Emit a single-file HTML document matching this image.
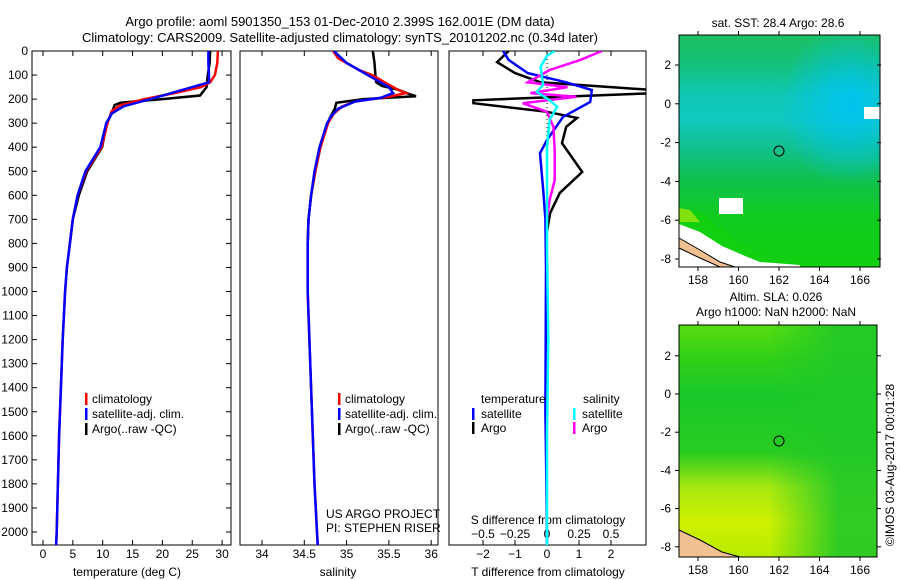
<!DOCTYPE html>
<html><head><meta charset="utf-8"><style>
html,body{margin:0;padding:0;background:#fff;}
svg{display:block;font-family:"Liberation Sans",sans-serif;}
text{font-size:12px;fill:#000;}
</style></head><body>
<svg id="fig" width="900" height="580" viewBox="0 0 900 580">
<defs>
<linearGradient id="sstGrad" x1="0" y1="0" x2="0" y2="1">
<stop offset="0" stop-color="#1cc060"/><stop offset="0.12" stop-color="#14c078"/>
<stop offset="0.25" stop-color="#10c8b0"/><stop offset="0.36" stop-color="#10c8c0"/>
<stop offset="0.5" stop-color="#10c088"/><stop offset="0.62" stop-color="#10c050"/>
<stop offset="0.78" stop-color="#10cc20"/><stop offset="1" stop-color="#10d010"/></linearGradient>
<radialGradient id="sstBlob" cx="0.85" cy="0.3" r="0.35"><stop offset="0" stop-color="#00c4f0" stop-opacity="1"/><stop offset="1" stop-color="#00c4f0" stop-opacity="0"/></radialGradient>
<linearGradient id="slaGrad" x1="0" y1="0" x2="0" y2="1">
<stop offset="0" stop-color="#58dc10"/><stop offset="0.15" stop-color="#30d018"/>
<stop offset="0.3" stop-color="#18c828"/><stop offset="0.55" stop-color="#28cc20"/>
<stop offset="0.7" stop-color="#a8e810"/><stop offset="0.85" stop-color="#d0f000"/><stop offset="1" stop-color="#b8ec00"/></linearGradient>
<linearGradient id="slaRight" x1="0" y1="0" x2="1" y2="0"><stop offset="0.45" stop-color="#20c828" stop-opacity="0"/><stop offset="0.8" stop-color="#20c828" stop-opacity="0.9"/><stop offset="1" stop-color="#20c828" stop-opacity="0.9"/></linearGradient>
<clipPath id="c1"><rect x="32" y="51" width="199" height="494"/></clipPath>
<clipPath id="c2"><rect x="240" y="51" width="198" height="494"/></clipPath>
<clipPath id="c3"><rect x="449" y="51" width="197" height="494"/></clipPath>
</defs>
<text x="340" y="26" text-anchor="middle" style="font-size:13px">Argo profile: aoml 5901350_153 01-Dec-2010 2.399S 162.001E (DM data)</text>
<text x="340" y="42" text-anchor="middle" style="font-size:13px">Climatology: CARS2009. Satellite-adjusted climatology: synTS_20101202.nc (0.34d later)</text>
<g id="g1"></g>
<g id="g2"></g>
<g id="g3"></g>
<g id="maps">
<text x="778" y="27" text-anchor="middle">sat. SST: 28.4  Argo: 28.6</text>
<rect x="679" y="35" width="201" height="232" fill="url(#sstGrad)"/>
<rect x="679" y="35" width="201" height="232" fill="url(#sstBlob)"/>
<polygon points="679,208 700,212 720,228 745,245 770,258 810,262 820,267 679,267" fill="#10d010"/>
<polygon points="679,208 690,210 700,222 679,222" fill="#80e010"/>
<polygon points="679,224 700,232 722,246 745,256 760,262 800,265 800,267 679,267" fill="#fff"/>
<polygon points="679,238 700,250 720,262 735,267 720,267 700,258 679,248" fill="#f0c090" stroke="#000" stroke-width="1"/>
<rect x="719" y="198" width="24" height="16" fill="#fff"/>
<rect x="864" y="107" width="16" height="12" fill="#fff"/>
<rect x="679" y="35" width="201" height="232" fill="none" stroke="#000"/>
<circle cx="779" cy="151" r="5" fill="none" stroke="#000"/>
<text x="776" y="301" text-anchor="middle">Altim. SLA: 0.026</text>
<text x="776" y="316" text-anchor="middle">Argo h1000: NaN h2000: NaN</text>
<rect x="679" y="325" width="198" height="232" fill="url(#slaGrad)"/>
<rect x="679" y="325" width="198" height="232" fill="url(#slaRight)"/>
<polygon points="679,530 700,540 722,552 740,557 679,557" fill="#f0c090" stroke="#000"/>
<rect x="679" y="325" width="198" height="232" fill="none" stroke="#000"/>
<circle cx="779" cy="441" r="5" fill="none" stroke="#000"/>
<text transform="translate(894,465) rotate(-90)" text-anchor="middle">©IMOS 03-Aug-2017 00:01:28</text>
</g>
</svg>
<script>
// ---- data ----
const tClimDepth=[0,50,100,130,150,175,200,225,250,300,400,500,600,700,800,900,1000,1200,1400,1600,1800,2000,2060];
const tClim=[29.3,29.2,28.8,28.0,26.5,22,17,13,11.5,10.8,9.8,7.2,5.8,5.0,4.5,4.0,3.7,3.3,3.0,2.7,2.5,2.3,2.2];
const tSatDepth=[0,50,100,130,150,175,200,230,260,300,400,500,600,700,800,900,1000,1200,1400,1600,1800,2000,2060];
const tSat=[27.7,27.7,27.8,27.8,25,21.5,18,13.5,11.5,10.6,9.6,7.1,5.8,5.0,4.5,4.0,3.7,3.3,3.0,2.7,2.5,2.3,2.2];
const tArgoDepth=[0,50,100,150,185,200,215,225,260,300,400,500,600,700,800];
const tArgo=[28,27.9,27.6,27.4,26.3,20,13,12,11.5,10.7,9.9,7.4,6.0,5.0,4.5];
const sClimDepth=[0,30,50,80,100,130,160,175,190,210,230,260,300,400,500,600,700,800,1000,1200,1400,1600,1800,2000,2060];
const sClim=[34.84,34.9,35.0,35.15,35.3,35.45,35.6,35.7,35.5,35.1,34.95,34.85,34.78,34.69,34.63,34.58,34.55,34.54,34.54,34.56,34.58,34.6,34.62,34.65,34.66];
const sSatDepth=[0,50,100,130,150,175,195,210,240,270,300,400,500,600,700,800,1000,1200,1400,1600,1800,2000,2060];
const sSat=[34.85,35.0,35.25,35.4,35.5,35.55,35.4,35.1,34.9,34.82,34.77,34.68,34.62,34.58,34.55,34.54,34.54,34.56,34.58,34.6,34.62,34.65,34.66];
const sArgoDepth=[0,50,100,130,145,160,180,188,200,215,240,280,300,400,500,600,700,800];
const sArgo=[35.31,35.33,35.34,35.35,35.42,35.6,35.75,35.82,35.2,34.88,34.86,34.8,34.78,34.69,34.63,34.58,34.55,34.54];
const dTSatDepth=[0,37,92,130,162,212,274,370,425,578,700,900,1200,1500,1800,2060];
const dTSat=[-1.37,-1.2,-0.6,0.6,1.4,1.35,0.5,0,-0.22,-0.12,-0.05,-0.03,-0.04,-0.05,-0.02,0];
const dTArgoDepth=[0,46,92,130,163,175,205,217,253,278,315,383,503,590,673,750];
const dTArgo=[-1.2,-1.56,-1.0,-0.2,3.4,3.4,-2.3,-2.3,0,0.94,0.6,0.47,1.1,0.4,0.1,0];
const dSSatDepth=[0,20,66,140,170,205,232,286,400,800,1200,1600,2060];
const dSSat=[0.06,0,-0.05,-0.03,-0.08,0.02,0.08,0.02,0,0,0.01,0,0];
const dSArgoDepth=[0,37,79,130,150,175,190,217,253,315,412,537,620,700];
const dSArgo=[0.43,0.26,0.02,-0.15,0.16,-0.13,0.23,-0.19,0,0.05,0.06,0.06,0.02,0];
const depthTicks=[0,100,200,300,400,500,600,700,800,900,1000,1100,1200,1300,1400,1500,1600,1700,1800,1900,2000];
const tTicks=[0,5,10,15,20,25,30];
const sTicks=[34,34.5,35,35.5,36];
const dTTicks=[-2,-1,0,1,2];
const dSTicks=[-0.5,-0.25,0,0.25,0.5];
const dSTickLabels=['\u22120.5','\u22120.25','0','0.25','0.5'];
const NS='http://www.w3.org/2000/svg';
const yD=d=>51+d*0.2405;
const xT=t=>43+t*5.97;
const xS=s=>262+(s-34)*84.6;
const xDT=v=>547+v*32;
const xDS=v=>547+v*128;
function mk(tag,parent,attrs){const e=document.createElementNS(NS,tag);for(const k in attrs)e.setAttribute(k,attrs[k]);parent.appendChild(e);return e;}
function line(parent,depths,vals,xf,color,name,clip,w){
  const pts=depths.map((d,i)=>xf(vals[i]).toFixed(1)+','+yD(d).toFixed(1)).join(' ');
  const p=mk('polyline',parent,{points:pts,fill:'none',stroke:color,'stroke-width':w||2.5,'clip-path':'url(#'+clip+')'});
  
  
}
function frame(g,x0,x1,name,rightTicks){
  const r=mk('rect',g,{x:x0,y:51,width:x1-x0,height:494,fill:'none',stroke:'#000'});
  
  
  if(rightTicks){depthTicks.forEach(d=>{const t=mk('line',g,{x1:x0,x2:x0+5,y1:yD(d),y2:yD(d),stroke:'#000'});
    
    
    const t2=mk('line',g,{x1:x1-5,x2:x1,y1:yD(d),y2:yD(d),stroke:'#000'});
    
    });}
}
function xticks(g,ticks,xf,labelY){
  ticks.forEach(v=>{const x=xf(v);
    const a=mk('line',g,{x1:x,x2:x,y1:51,y2:56,stroke:'#000'});
    
    
    const b=mk('line',g,{x1:x,x2:x,y1:540,y2:545,stroke:'#000'});
    
    
    const t=mk('text',g,{x:x,y:labelY,'text-anchor':'middle'});t.textContent=String(v).replace('-','\u2212');
    
    });
}
function txt(g,x,y,s,name,anchor){const t=mk('text',g,{x:x,y:y,'text-anchor':anchor||'start'});t.textContent=s;
  
  return t;}
function legBar(g,x,y,color){const r=mk('rect',g,{x:x,y:y-10,width:2.5,height:12,fill:color});
  
  }
// panel 1
const g1=document.getElementById('g1');
frame(g1,32,231,'temperature-frame',true);
depthTicks.forEach(d=>{txt(g1,28,yD(d)+4,String(d),'depth-tick-label','end');});
xticks(g1,tTicks,xT,558);
txt(g1,127,576,'temperature (deg C)','temperature-axis-title','middle');
line(g1,tArgoDepth,tArgo,xT,'#000','temperature-argo-line','c1');
line(g1,tClimDepth,tClim,xT,'#f00','temperature-climatology-line','c1');
line(g1,tSatDepth,tSat,xT,'#0000ff','temperature-satellite-line','c1');
[['climatology','#f00'],['satellite-adj. clim.','#0000ff'],['Argo(..raw -QC)','#000']].forEach((l,i)=>{legBar(g1,85,403+i*15,l[1]);txt(g1,92,403+i*15,l[0],'temperature-legend-entry');});
// panel 2
const g2=document.getElementById('g2');
frame(g2,240,438,'salinity-frame',false);
xticks(g2,sTicks,xS,558);
txt(g2,338,576,'salinity','salinity-axis-title','middle');
line(g2,sArgoDepth,sArgo,xS,'#000','salinity-argo-line','c2');
line(g2,sClimDepth,sClim,xS,'#f00','salinity-climatology-line','c2');
line(g2,sSatDepth,sSat,xS,'#0000ff','salinity-satellite-line','c2');
[['climatology','#f00'],['satellite-adj. clim.','#0000ff'],['Argo(..raw -QC)','#000']].forEach((l,i)=>{legBar(g2,338,403+i*15,l[1]);txt(g2,345,403+i*15,l[0],'salinity-legend-entry');});
txt(g2,326,518,'US ARGO PROJECT','project-label');
txt(g2,326,532,'PI: STEPHEN RISER','pi-label');
// panel 3
const g3=document.getElementById('g3');
frame(g3,449,646,'difference-frame',false);
const z=mk('line',g3,{x1:547,x2:547,y1:51,y2:545,stroke:'#000','stroke-dasharray':'1,3'});


xticks(g3,dTTicks,xDT,558);
dSTicks.forEach((v,i)=>{txt(g3,xDS(v),538,dSTickLabels[i],'s-difference-tick-label','middle');});
txt(g3,548,524,'S difference from climatology','s-difference-axis-title','middle');
txt(g3,548,576,'T difference from climatology','t-difference-axis-title','middle');
line(g3,dTArgoDepth,dTArgo,xDT,'#000','t-diff-argo-line','c3');
line(g3,dTSatDepth,dTSat,xDT,'#0000ff','t-diff-satellite-line','c3');
line(g3,dSArgoDepth,dSArgo,xDS,'#ff00ff','s-diff-argo-line','c3');
line(g3,dSSatDepth,dSSat,xDS,'#00ffff','s-diff-satellite-line','c3');
txt(g3,481,403,'temperature','legend-temperature-heading');
txt(g3,583,403,'salinity','legend-salinity-heading');
legBar(g3,472,418,'#0000ff');txt(g3,481,418,'satellite','legend-t-satellite');
legBar(g3,472,432,'#000');txt(g3,481,432,'Argo','legend-t-argo');
legBar(g3,573,418,'#00ffff');txt(g3,582,418,'satellite','legend-s-satellite');
legBar(g3,573,432,'#ff00ff');txt(g3,582,432,'Argo','legend-s-argo');
// map axes
const maps=document.getElementById('maps');
const lonTicks=[158,160,162,164,166];
const latTicks=[2,0,-2,-4,-6,-8];
const xLon=l=>677.75+(l-157)*20.25;
function mapAxes(top,bottom,lat0,latScale,name){
  lonTicks.forEach(l=>{const x=xLon(l);
    const a=mk('line',maps,{x1:x,x2:x,y1:top,y2:top-4,stroke:'#000'});
    
    
    const b=mk('line',maps,{x1:x,x2:x,y1:bottom,y2:bottom+4,stroke:'#000'});
    
    
    txt(maps,x,bottom+17,String(l),name+'-lon-label','middle');});
  latTicks.forEach(v=>{const y=lat0-v*latScale;
    const a=mk('line',maps,{x1:675,x2:679,y1:y,y2:y,stroke:'#000'});
    
    
    const b=mk('line',maps,{x1:877,x2:881,y1:y,y2:y,stroke:'#000'});
    
    
    txt(maps,671,y+4,String(v),name+'-lat-label','end');});
}
mapAxes(35,267,103.8,19.4,'sst');
mapAxes(325,557,394,19.1,'sla');
</script>
</body></html>
